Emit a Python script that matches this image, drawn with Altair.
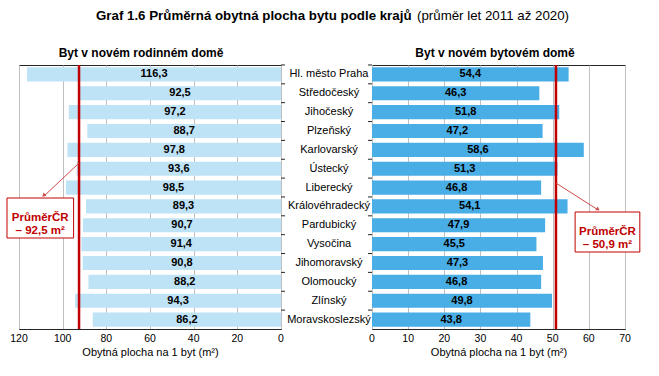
import altair as alt
import pandas as pd

# ---------------- data ----------------
regions = ["Hl. město Praha", "Středočeský", "Jihočeský", "Plzeňský", "Karlovarský",
           "Ústecký", "Liberecký", "Královéhradecký", "Pardubický", "Vysočina",
           "Jihomoravský", "Olomoucký", "Zlínský", "Moravskoslezský"]
rodinny = [116.3, 92.5, 97.2, 88.7, 97.8, 93.6, 98.5, 89.3, 90.7, 91.4, 90.8, 88.2, 94.3, 86.2]
bytovy = [54.4, 46.3, 51.8, 47.2, 58.6, 51.3, 46.8, 54.1, 47.9, 45.5, 47.3, 46.8, 49.8, 43.8]
avg_rodinny = [92.5]
avg_bytovy = [50.9]
avg_label_l = ["PrůměrČR\n– 92,5 m²"]
avg_label_r = ["PrůměrČR\n– 50,9 m²"]
ticks_left = [0, 20, 40, 60, 80, 100, 120]
ticks_right = [0, 10, 20, 30, 40, 50, 60, 70]

title_bold = "Graf 1.6 Průměrná obytná plocha bytu podle krajů"
title_normal = "(průměr let 2011 až 2020)"
sub_left = "Byt v novém rodinném domě"
sub_right = "Byt v novém bytovém domě"
axis_title = "Obytná plocha na 1 byt (m²)"

# ---------------- style ----------------
FONT = "Liberation Sans"
RED = "#C00000"
ARROW = "#D04A4A"
FRAME = "#262626"
GRID = "#BFBFBF"
W_L, W_R, H = 262, 253, 264


def fmt(v):
    return f"{v:.1f}".replace(".", ",")


df = pd.DataFrame({"region": regions, "rd": rodinny, "bd": bytovy})
df["rd_lab"] = [fmt(v) for v in rodinny]
df["bd_lab"] = [fmt(v) for v in bytovy]
df["rd_mid"] = df["rd"] / 2
df["bd_mid"] = df["bd"] / 2

ann_l = pd.DataFrame({"avg": avg_rodinny, "label": avg_label_l})
ann_r = pd.DataFrame({"avg": avg_bytovy, "label": avg_label_r})
tl = pd.DataFrame({"v": [float(v) for v in ticks_left], "lab": [str(v) for v in ticks_left]})
tr = pd.DataFrame({"v": [float(v) for v in ticks_right], "lab": [str(v) for v in ticks_right]})

ysc = alt.Scale(domain=regions, paddingInner=0.25, paddingOuter=0.125)
xl = alt.Scale(domain=[0, 120], reverse=True, nice=False)
xr = alt.Scale(domain=[0, 70], nice=False)


def xaxis(values):
    return alt.Axis(values=values, grid=True, gridColor=GRID, gridWidth=1, ticks=False,
                    domainColor=FRAME, labels=False,
                    title=axis_title, titleFont=FONT, titleFontSize=11,
                    titleFontWeight="normal", titleColor="black", titlePadding=17)


AX_L = xaxis(ticks_left)
AX_R = xaxis(ticks_right)


def XL(field=None, datum=None):
    if field is not None:
        return alt.X(field, type="quantitative", scale=xl, axis=AX_L)
    return alt.X(datum=datum, type="quantitative", scale=xl, axis=AX_L)


def XR(field=None, datum=None):
    if field is not None:
        return alt.X(field, type="quantitative", scale=xr, axis=AX_R)
    return alt.X(datum=datum, type="quantitative", scale=xr, axis=AX_R)


Y = alt.Y("region:N", scale=ysc, axis=None, sort=regions)

# ---------------- left panel ----------------
base_l = alt.Chart(df)
bars_l = base_l.mark_bar(color="#BEE2F6").encode(x=XL("rd"), y=Y)
text_l = base_l.mark_text(font=FONT, fontSize=11, fontWeight="bold", color="black").encode(
    x=XL("rd_mid"), y=Y, text="rd_lab:N",
)
sep_l = base_l.mark_rule(color=FRAME, yOffset=-2.4).encode(
    y=alt.Y("region:N", scale=ysc, sort=regions, bandPosition=0, axis=None),
    x=alt.value(W_L), x2=alt.value(W_L + 4),
)
avg_l = alt.Chart(ann_l).mark_rule(color=RED, strokeWidth=2.5).encode(x=XL("avg"))
arrow_l = alt.Chart(ann_l).mark_rule(color=ARROW, strokeWidth=1).encode(
    x=XL("avg"), x2=alt.datum(108.5),
    y=alt.value(98), y2=alt.value(131),
)
head_l = alt.Chart(ann_l).mark_point(shape="triangle", filled=True, color=ARROW, size=18,
                                     angle=227, opacity=1).encode(
    x=XL(datum=108.5), y=alt.value(130)
)
box_l = alt.Chart(ann_l).mark_rect(fill="white", stroke=RED, strokeWidth=1).encode(
    x=XL(datum=125.5), x2=alt.datum(95.0),
    y=alt.value(133), y2=alt.value(173),
)
btxt_l = alt.Chart(ann_l).mark_text(font=FONT, fontSize=11.5, fontWeight="bold", color=RED,
                                    lineBreak="\n", lineHeight=13).encode(
    x=XL(datum=110.3), y=alt.value(153), text="label:N"
)
t_bold = alt.Chart(ann_l).mark_text(font=FONT, fontSize=13.3, fontWeight="bold", color="black",
                                    align="left", baseline="middle").encode(
    x=alt.value(77), y=alt.value(-49), text=alt.value(title_bold)
)
t_norm = alt.Chart(ann_l).mark_text(font=FONT, fontSize=13.3, color="black",
                                    align="left", baseline="middle").encode(
    x=alt.value(398), y=alt.value(-49), text=alt.value(title_normal)
)
s_l = alt.Chart(ann_l).mark_text(font=FONT, fontSize=12, fontWeight="bold", color="black",
                                 align="center", baseline="middle").encode(
    x=alt.value(122), y=alt.value(-12), text=alt.value(sub_left)
)
tick_lab_l = alt.Chart(tl).mark_text(font=FONT, fontSize=10.5, color="black",
                                     baseline="top", align="center").encode(
    x=XL("v"), y=alt.value(H + 5), text="lab:N"
)

left = alt.layer(bars_l, text_l, sep_l, avg_l, arrow_l, head_l, box_l, btxt_l,
                 t_bold, t_norm, s_l, tick_lab_l).properties(width=W_L, height=H)

# ---------------- right panel ----------------
base_r = alt.Chart(df)
bars_r = base_r.mark_bar(color="#49ADE6").encode(x=XR("bd"), y=Y)
text_r = base_r.mark_text(font=FONT, fontSize=11, fontWeight="bold", color="black").encode(
    x=XR("bd_mid"), y=Y, text="bd_lab:N",
)
cat_r = base_r.mark_text(font=FONT, fontSize=11, color="black", align="center").encode(
    x=alt.value(-43), y=Y, text="region:N",
)
sep_r = base_r.mark_rule(color=FRAME, yOffset=-2.4).encode(
    y=alt.Y("region:N", scale=ysc, sort=regions, bandPosition=0, axis=None),
    x=alt.value(-4), x2=alt.value(0),
)
avg_r = alt.Chart(ann_r).mark_rule(color=RED, strokeWidth=2.5).encode(x=XR("avg"))
arrow_r = alt.Chart(ann_r).mark_rule(color=ARROW, strokeWidth=1).encode(
    x=XR("avg"), x2=alt.datum(62.6),
    y=alt.value(118), y2=alt.value(145),
)
head_r = alt.Chart(ann_r).mark_point(shape="triangle", filled=True, color=ARROW, size=18,
                                     angle=122, opacity=1).encode(
    x=XR(datum=62.4), y=alt.value(144)
)
box_r = alt.Chart(ann_r).mark_rect(fill="white", stroke=RED, strokeWidth=1).encode(
    x=XR(datum=56.2), x2=alt.datum(74.1),
    y=alt.value(147), y2=alt.value(187),
)
btxt_r = alt.Chart(ann_r).mark_text(font=FONT, fontSize=11.5, fontWeight="bold", color=RED,
                                    lineBreak="\n", lineHeight=13).encode(
    x=XR(datum=65.15), y=alt.value(167), text="label:N"
)
s_r = alt.Chart(ann_r).mark_text(font=FONT, fontSize=12, fontWeight="bold", color="black",
                                 align="center", baseline="middle").encode(
    x=alt.value(123), y=alt.value(-12), text=alt.value(sub_right)
)
tick_lab_r = alt.Chart(tr).mark_text(font=FONT, fontSize=10.5, color="black",
                                     baseline="top", align="center").encode(
    x=XR("v"), y=alt.value(H + 5), text="lab:N"
)

right = alt.layer(bars_r, text_r, cat_r, sep_r, avg_r, arrow_r, head_r, box_r,
                  btxt_r, s_r, tick_lab_r).properties(width=W_R, height=H)

chart = alt.hconcat(left, right, spacing=91, bounds="flush").properties(
    padding={"left": 5, "top": 8, "right": 5, "bottom": 5},
    background="white",
).configure_view(stroke=FRAME, strokeWidth=1)

chart.save("out.html", embed_options={"renderer": "svg", "actions": False})
